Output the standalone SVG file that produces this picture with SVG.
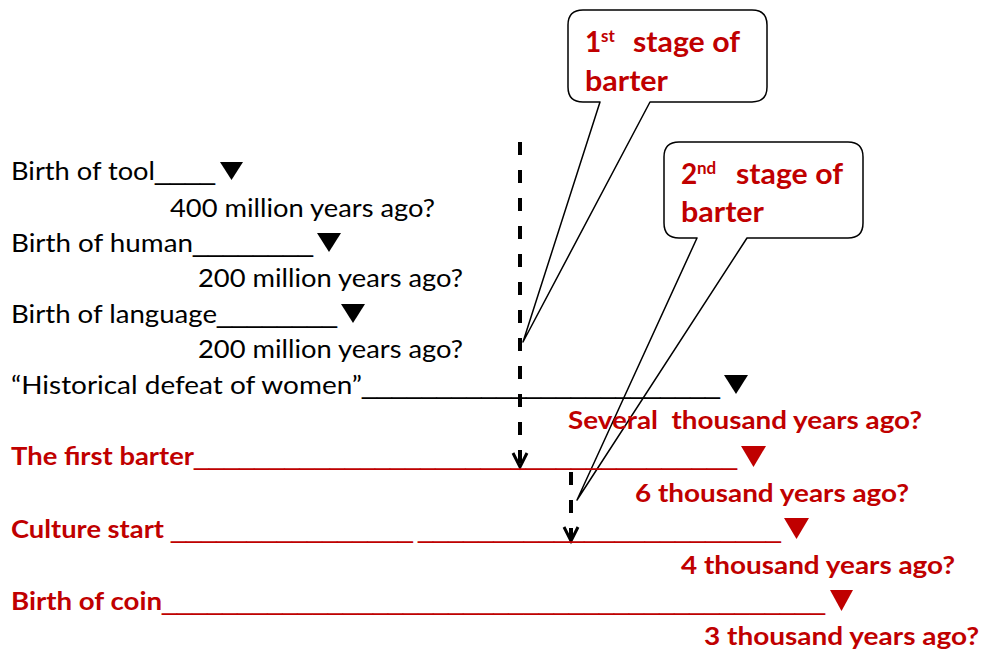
<svg xmlns="http://www.w3.org/2000/svg" width="982" height="652" viewBox="0 0 982 652">
<style>
.b{font-family:Lato,"Open Sans","Liberation Sans",sans-serif;font-size:25px;fill:#000}
.r{font-family:Lato,"Open Sans","Liberation Sans",sans-serif;font-size:25px;font-weight:bold;fill:#C00000}
.c{font-family:Lato,"Open Sans","Liberation Sans",sans-serif;font-size:28px;font-weight:bold;fill:#C00000}
.u{font-family:"Liberation Sans",Arial,sans-serif;font-weight:normal}
.sup{font-size:17px}
.pre{white-space:pre}
.callout{fill:#fff;stroke:#000;stroke-width:1.5;stroke-linejoin:round}
.dash{stroke:#000;stroke-width:4;stroke-dasharray:13 15;fill:none}
.head{stroke:#000;stroke-width:3;fill:none}
.tb{fill:#000}
.tr{fill:#C00000}
</style>
<rect width="982" height="652" fill="#fff"/>
<g id="callout1">
<path class="callout" d="M583,10 H752 Q767,10 767,25 V87 Q767,102 752,102 H650 L523,342 L600,102 H583 Q568,102 568,87 V25 Q568,10 583,10 Z"/>
<text class="c"><tspan x="585" y="52">1</tspan><tspan class="sup" x="601" y="42">st</tspan><tspan x="633" y="52" textLength="107" lengthAdjust="spacingAndGlyphs">stage of</tspan><tspan x="585" y="91" textLength="83" lengthAdjust="spacingAndGlyphs">barter</tspan></text>
</g>
<g id="callout2">
<path class="callout" d="M679,142 H848 Q863,142 863,157 V223 Q863,238 848,238 H747 L577,500 L697,238 H679 Q664,238 664,223 V157 Q664,142 679,142 Z"/>
<text class="c"><tspan x="681" y="184">2</tspan><tspan class="sup" x="697" y="174">nd</tspan><tspan x="736" y="184" textLength="107" lengthAdjust="spacingAndGlyphs">stage of</tspan><tspan x="681" y="222" textLength="83" lengthAdjust="spacingAndGlyphs">barter</tspan></text>
</g>
<g id="connectors">
<line class="dash" x1="520" y1="142" x2="520" y2="466"/>
<polyline class="head" points="513,453 520,467 527,453"/>
<line class="dash" x1="571" y1="472" x2="571" y2="540" stroke-dasharray="13 9"/>
<polyline class="head" points="564,527 571,541 578,527"/>
</g>
<g id="tool">
<text class="b"><tspan x="11" y="180" textLength="144" lengthAdjust="spacingAndGlyphs">Birth of tool</tspan><tspan class="u" x="155" y="180" textLength="60" lengthAdjust="spacingAndGlyphs">____</tspan></text>
<polygon class="tb" points="220,162 243,162 231.5,180"/>
<text class="b" x="170" y="217" textLength="265" lengthAdjust="spacingAndGlyphs">400 million years ago?</text>
</g>
<g id="human">
<text class="b"><tspan x="11" y="252" textLength="182" lengthAdjust="spacingAndGlyphs">Birth of human</tspan><tspan class="u" x="193" y="252" textLength="120" lengthAdjust="spacingAndGlyphs">________</tspan></text>
<polygon class="tb" points="317,233 341,233 329,252"/>
<text class="b" x="198" y="287" textLength="265" lengthAdjust="spacingAndGlyphs">200 million years ago?</text>
</g>
<g id="language">
<text class="b"><tspan x="11" y="323" textLength="206" lengthAdjust="spacingAndGlyphs">Birth of language</tspan><tspan class="u" x="217" y="323" textLength="120" lengthAdjust="spacingAndGlyphs">________</tspan></text>
<polygon class="tb" points="341,304 365,304 353,323"/>
<text class="b" x="198" y="358" textLength="265" lengthAdjust="spacingAndGlyphs">200 million years ago?</text>
</g>
<g id="women">
<text class="b"><tspan x="11" y="394" textLength="351" lengthAdjust="spacingAndGlyphs">“Historical defeat of women”</tspan><tspan class="u" x="362" y="394" textLength="358" lengthAdjust="spacingAndGlyphs">________________________</tspan></text>
<polygon class="tb" points="724,375 748,375 736,394"/>
<text class="r pre" x="568" y="429" textLength="354" lengthAdjust="spacingAndGlyphs">Several  thousand years ago?</text>
</g>
<g id="barter">
<text class="r"><tspan x="11" y="465" textLength="183" lengthAdjust="spacingAndGlyphs">The first barter</tspan><tspan class="u" x="194" y="465" textLength="543" lengthAdjust="spacingAndGlyphs">____________________________________</tspan></text>
<polygon class="tr" points="741,446 766,446 753.5,467"/>
<text class="r" x="635" y="502" textLength="274" lengthAdjust="spacingAndGlyphs">6 thousand years ago?</text>
</g>
<g id="culture">
<text class="r"><tspan x="11" y="538" textLength="153" lengthAdjust="spacingAndGlyphs">Culture start</tspan><tspan class="u" x="171" y="538" textLength="242" lengthAdjust="spacingAndGlyphs">________________</tspan><tspan class="u" x="418" y="538" textLength="363" lengthAdjust="spacingAndGlyphs">________________________</tspan></text>
<polygon class="tr" points="784,518 809,518 796.5,539"/>
<text class="r" x="681" y="574" textLength="274" lengthAdjust="spacingAndGlyphs">4 thousand years ago?</text>
</g>
<g id="coin">
<text class="r"><tspan x="11" y="610" textLength="151" lengthAdjust="spacingAndGlyphs">Birth of coin</tspan><tspan class="u" x="162" y="610" textLength="663" lengthAdjust="spacingAndGlyphs">____________________________________________</tspan></text>
<polygon class="tr" points="830,590 853,590 841.5,611"/>
<text class="r" x="704" y="645" textLength="275" lengthAdjust="spacingAndGlyphs">3 thousand years ago?</text>
</g>
</svg>
